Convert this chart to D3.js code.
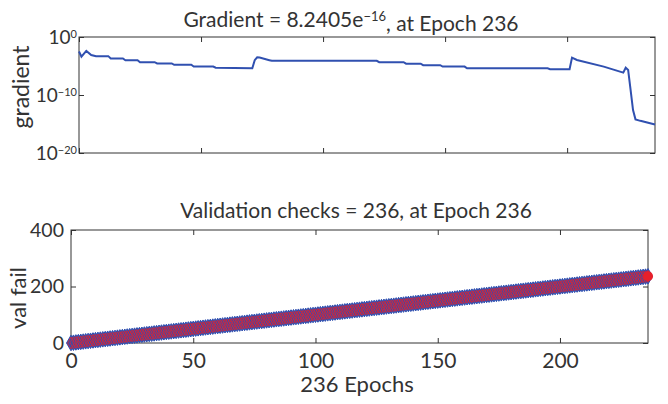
<!DOCTYPE html>
<html lang="en">
<head>
<meta charset="UTF-8">
<title>training state</title>
<script src="https://cdn.jsdelivr.net/npm/d3@7/dist/d3.min.js"></script>
<style>
  body { margin: 0; background: #fff; }
  svg text { font-family: Lato, "Open Sans", sans-serif; fill: #333; }
  .axis path { display: none; }
  .axis line { stroke: #333; }
</style>
</head>
<body>
<script>
// gradient curve, breakpoints (epoch, gradient)
var gradEpochs = [0, 1, 3, 5, 7, 12, 13, 18, 19, 24, 25, 31, 32, 38, 39, 46, 47, 55, 56, 71,
  72, 73, 74, 78, 79, 122, 123, 133, 134, 140, 141, 148, 149, 158, 159, 192, 193, 201, 202, 204,
  215, 223, 224, 225, 226, 227, 228, 230, 236]
var gradValues = [3.2e-3, 4.0e-4, 4.0e-3, 7.9e-4, 5.0e-4, 5.0e-4, 2.0e-4, 2.0e-4, 1.0e-4, 1.0e-4,
  4.5e-5, 4.5e-5, 2.8e-5, 2.8e-5, 1.6e-5, 1.6e-5, 7.9e-6, 7.9e-6, 5.0e-6, 4.0e-6,
  1.0e-4, 3.2e-4, 2.8e-4, 1.0e-4, 7.9e-5, 7.9e-5, 4.5e-5, 4.5e-5, 2.5e-5, 2.5e-5,
  1.4e-5, 1.4e-5, 7.9e-6, 7.9e-6, 4.0e-6, 4.0e-6, 2.8e-6, 2.8e-6, 2.8e-4, 1.1e-4,
  7.9e-6, 7.1e-7, 5.0e-6, 2.0e-6, 7.9e-10, 2.5e-13, 6.3e-15, 3.5e-15, 8.2405e-16]

// validation failures, one per epoch (index = epoch)
var valFail = [
  0, 1, 2, 3, 4, 5, 6, 7, 8, 9, 10, 11, 12, 13, 14, 15, 16, 17, 18, 19,
  20, 21, 22, 23, 24, 25, 26, 27, 28, 29, 30, 31, 32, 33, 34, 35, 36, 37, 38, 39,
  40, 41, 42, 43, 44, 45, 46, 47, 48, 49, 50, 51, 52, 53, 54, 55, 56, 57, 58, 59,
  60, 61, 62, 63, 64, 65, 66, 67, 68, 69, 70, 71, 72, 73, 74, 75, 76, 77, 78, 79,
  80, 81, 82, 83, 84, 85, 86, 87, 88, 89, 90, 91, 92, 93, 94, 95, 96, 97, 98, 99,
  100, 101, 102, 103, 104, 105, 106, 107, 108, 109, 110, 111, 112, 113, 114, 115, 116, 117, 118, 119,
  120, 121, 122, 123, 124, 125, 126, 127, 128, 129, 130, 131, 132, 133, 134, 135, 136, 137, 138, 139,
  140, 141, 142, 143, 144, 145, 146, 147, 148, 149, 150, 151, 152, 153, 154, 155, 156, 157, 158, 159,
  160, 161, 162, 163, 164, 165, 166, 167, 168, 169, 170, 171, 172, 173, 174, 175, 176, 177, 178, 179,
  180, 181, 182, 183, 184, 185, 186, 187, 188, 189, 190, 191, 192, 193, 194, 195, 196, 197, 198, 199,
  200, 201, 202, 203, 204, 205, 206, 207, 208, 209, 210, 211, 212, 213, 214, 215, 216, 217, 218, 219,
  220, 221, 222, 223, 224, 225, 226, 227, 228, 229, 230, 231, 232, 233, 234, 235, 236]

var epochTicks = [0, 50, 100, 150, 200]
var gradTicks = [1e-20, 1e-10, 1]
var gradTickExp = ['\u221220', '\u221210', '0']
var failTicks = [0, 200, 400]

var w = 668, h = 404
var blue = '#3050b0', red = '#e8202a'

var svg = d3.select('body').append('svg').attr('width', w).attr('height', h)

// ---------- top: gradient (log) ----------
var x1 = d3.scaleLinear().domain([0, 236]).range([79, 655])
var y1 = d3.scaleLog().domain([1e-20, 1]).range([153, 37])

var gTop = svg.append('g')
gTop.append('g').attr('class', 'axis').attr('transform', 'translate(0,153)')
  .call(d3.axisBottom(x1).tickValues(epochTicks).tickSize(-5).tickFormat(''))
gTop.append('g').attr('class', 'axis').attr('transform', 'translate(0,37)')
  .call(d3.axisTop(x1).tickValues(epochTicks).tickSize(-5).tickFormat(''))
gTop.append('g').attr('class', 'axis').attr('transform', 'translate(655,0)')
  .call(d3.axisRight(y1).tickValues(gradTicks).tickSize(-5).tickFormat(''))
var yAx1 = gTop.append('g').attr('class', 'axis').attr('transform', 'translate(79,0)')
  .call(d3.axisLeft(y1).tickValues(gradTicks).tickSize(-5).tickPadding(2).tickFormat(''))
yAx1.selectAll('.tick text').each(function (d, i) {
  var t = d3.select(this).attr('font-size', 19).attr('dy', '0.36em')
  t.append('tspan').text('10')
  t.append('tspan').attr('dy', '-0.6em').attr('font-size', 11).text(gradTickExp[i])
})

gTop.append('rect').attr('x', 79).attr('y', 37).attr('width', 576).attr('height', 116)
  .attr('fill', 'none').attr('stroke', '#333')

var gradLine = d3.line()
  .x(function (d, i) { return x1(gradEpochs[i]) })
  .y(function (d) { return y1(d) })
gTop.append('path').datum(gradValues).attr('d', gradLine)
  .attr('fill', 'none').attr('stroke', blue).attr('stroke-width', 2)

var t1 = svg.append('text').attr('x', 351).attr('y', 27).attr('text-anchor', 'middle').attr('font-size', 21)
t1.append('tspan').text('Gradient = 8.2405e')
t1.append('tspan').attr('dy', '-0.5em').attr('font-size', 13).text('\u221216')
t1.append('tspan').attr('dy', '0.5em').text(', at Epoch 236')

svg.append('text').attr('transform', 'translate(29,87) rotate(-90)').attr('text-anchor', 'middle')
  .attr('font-size', 23).text('gradient')

// ---------- bottom: validation checks ----------
var x2 = d3.scaleLinear().domain([0, 236]).range([71, 648])
var y2 = d3.scaleLinear().domain([0, 400]).range([343, 230])

var gBot = svg.append('g')
gBot.append('g').attr('class', 'axis').attr('transform', 'translate(0,343)')
  .call(d3.axisBottom(x2).tickValues(epochTicks).tickSize(-5).tickPadding(10))
  .selectAll('text').attr('font-size', 21)
gBot.append('g').attr('class', 'axis').attr('transform', 'translate(0,230)')
  .call(d3.axisTop(x2).tickValues(epochTicks).tickSize(-5).tickFormat(''))
gBot.append('g').attr('class', 'axis').attr('transform', 'translate(648,0)')
  .call(d3.axisRight(y2).tickValues(failTicks).tickSize(-5).tickFormat(''))
gBot.append('g').attr('class', 'axis').attr('transform', 'translate(71,0)')
  .call(d3.axisLeft(y2).tickValues(failTicks).tickSize(-5).tickPadding(7))
  .selectAll('text').attr('font-size', 19.5)

gBot.append('rect').attr('x', 71).attr('y', 230).attr('width', 577).attr('height', 113)
  .attr('fill', 'none').attr('stroke', '#333')

var bigDiamond = d3.symbol().type(d3.symbolDiamond).size(70)
var smallDiamond = d3.symbol().type(d3.symbolDiamond).size(40)

gBot.selectAll('path.vb').data(valFail).enter().append('path').attr('class', 'vb')
  .attr('d', bigDiamond)
  .attr('transform', function (d, i) { return 'translate(' + x2(i) + ',' + y2(d) + ')' })
  .attr('fill', blue).attr('stroke', blue).attr('stroke-width', 1)
gBot.selectAll('path.vr').data(valFail).enter().append('path').attr('class', 'vr')
  .attr('d', smallDiamond)
  .attr('transform', function (d, i) { return 'translate(' + x2(i) + ',' + y2(d) + ')' })
  .attr('fill', 'none').attr('stroke', red).attr('stroke-width', 0.8)
gBot.append('circle')
  .attr('cx', x2(valFail.length - 1)).attr('cy', y2(valFail[valFail.length - 1]))
  .attr('r', 5).attr('fill', red)

svg.append('text').attr('x', 356).attr('y', 218).attr('text-anchor', 'middle').attr('font-size', 21)
  .text('Validation checks = 236, at Epoch 236')

svg.append('text').attr('transform', 'translate(26,298) rotate(-90)').attr('text-anchor', 'middle')
  .attr('font-size', 22).text('val fail')

svg.append('text').attr('x', 357).attr('y', 392).attr('text-anchor', 'middle').attr('font-size', 22)
  .text('236 Epochs')
</script>
</body>
</html>
